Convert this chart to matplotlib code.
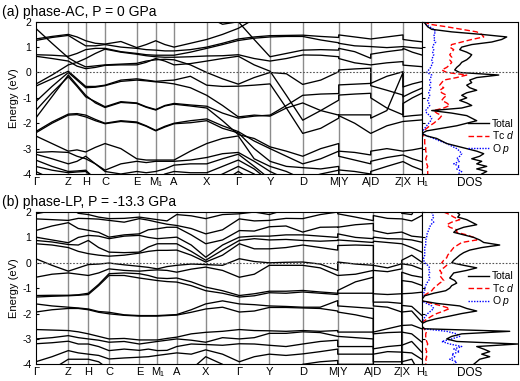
import numpy as np
import matplotlib.pyplot as plt

plt.rcParams['font.family'] = ['Liberation Sans', 'DejaVu Sans']
plt.rcParams['mathtext.fontset'] = 'custom'
plt.rcParams['mathtext.rm'] = 'Liberation Sans'
plt.rcParams['mathtext.it'] = 'Liberation Sans:italic'
plt.rcParams['axes.unicode_minus'] = False

# ---------------------------------------------
# k-path (high symmetry points, path length)
# ---------------------------------------------
k_labels = ['Γ', 'Z', 'H', 'C', 'E', 'M₁', 'A', 'X', 'Γ', 'Y', 'D',
            'M|Y', 'A|D', 'Z|X', 'H₁']
nodes_a = [0, 32.6, 50, 69.3, 101, 120, 138.3, 171, 202.6, 234.3, 267, 303, 335, 367.3, 386]
nodes_b = [0, 32.6, 52.6, 73.3, 103.6, 121.6, 141, 170, 203.6, 233.6, 267, 302, 337.6, 366, 386]
breaks = [11, 12, 13]  # discontinuous points M|Y, A|D, Z|X

# band energies (eV) at: G m Z m H m C m E m M1 m A m X m G m Y m D m M | Y m A | D m Z | X m H1
bands_a = [
    [2.0, 2.3, 2.6, 2.6, 2.6, 2.6, 2.6, 2.6, 2.6, 2.6, 2.6, 2.6, 2.6, 2.4, 2.2, 1.9, 2.0, 1.3, 0.62, 0.75, 0.88, 0.9, 0.88, 0.95, 0.82, 0.56, 0.72, 0.82, 0.90, 0.95, 0.80, 0.69],
    [1.74, 1.15, 0.58, 0.38, 0.22, 0.26, 0.30, 0.33, 0.36, 0.45, 0.50, 0.52, 0.50, 0.30, 0.00, -0.25, -0.46, -0.20, 0.00, -0.05, -0.47, -0.30, 0.03, 0.10, 0.14, 0.17, -0.43, -0.15, 0.03, -0.57, -0.45, -0.36],
    [1.32, 1.42, 1.50, 1.40, 1.25, 1.15, 1.12, 1.22, 0.98, 1.10, 1.25, 1.10, 1.00, 1.15, 1.30, 1.50, 1.74, 2.10, 2.6, 2.6, 2.6, 2.6, 2.6, 2.6, 2.6, 2.6, 2.6, 2.6, 2.6, 2.6, 2.6, 2.6],
    [1.26, 1.38, 1.46, 1.25, 1.05, 1.05, 1.10, 1.00, 0.95, 0.90, 0.88, 0.85, 0.85, 0.90, 1.00, 1.15, 1.32, 1.40, 1.45, 1.46, 1.47, 1.42, 1.38, 1.48, 1.40, 1.32, 1.32, 1.40, 1.48, 1.30, 1.25, 1.21],
    [0.70, 0.68, 0.64, 0.75, 0.90, 0.95, 0.95, 0.82, 0.75, 0.70, 0.68, 0.68, 0.68, 0.80, 0.95, 1.10, 1.26, 1.35, 1.40, 1.42, 1.42, 1.28, 1.17, 1.15, 1.05, 1.02, 1.02, 0.98, 1.02, 1.02, 0.98, 0.95],
    [-0.46, -0.10, 0.30, 0.40, 0.55, 0.75, 0.92, 0.80, 0.72, 0.66, 0.62, 0.60, 0.60, 0.62, 0.65, 0.66, 0.70, 0.55, 0.45, 0.55, 0.69, 0.68, 0.62, 0.55, 0.38, 0.30, 0.30, 0.38, 0.43, 0.29, 0.26, 0.23],
    [0.64, 0.55, 0.45, 0.25, 0.15, 0.20, 0.28, 0.30, 0.30, 0.40, 0.55, 0.45, 0.30, 0.35, 0.45, 0.55, 0.64, 0.30, 0.05, -0.90, -1.88, -1.50, -1.09, -0.89, -0.85, -0.82, -1.00, -1.40, -1.67, -1.22, -1.00, -0.82],
    [-0.54, -0.25, 0.05, -0.25, -0.55, -0.55, -0.50, -0.30, -0.25, -0.30, -0.35, -0.32, -0.30, -0.15, -0.50, -0.55, -0.54, -0.50, -0.45, -1.40, -2.40, -2.20, -1.80, -1.70, -2.00, -2.40, -2.40, -2.10, -1.93, -1.93, -1.90, -1.87],
    [-1.50, -0.80, -0.17, -0.55, -0.96, -1.15, -1.35, -1.15, -1.20, -1.35, -1.46, -1.30, -1.22, -1.28, -1.33, -1.60, -1.80, -1.72, -1.68, -1.30, -0.90, -0.85, -0.83, -0.49, -0.46, -0.43, -0.52, -0.70, -0.89, -0.96, -0.78, -0.62],
    [-1.15, -0.55, 0.00, -0.30, -0.60, -0.58, -0.52, -0.35, -0.30, -0.33, -0.37, -0.40, -0.45, -0.60, -0.90, -1.30, -1.75, -1.68, -1.72, -1.40, -1.20, -1.50, -1.68, -1.67, -1.67, -1.67, -1.80, -1.50, 0.00, -1.74, -1.70, -1.67],
    [-1.80, -0.95, -0.10, -0.50, -0.90, -1.20, -1.38, -1.18, -1.22, -1.37, -1.48, -1.32, -1.25, -1.32, -1.40, -1.90, -2.45, -2.60, -2.93, -3.10, -3.30, -3.00, -2.80, -3.10, -3.15, -3.25, -3.10, -3.00, -3.10, -3.10, -3.05, -2.98],
    [-2.33, -1.95, -1.64, -1.62, -1.68, -1.85, -2.00, -1.90, -1.95, -2.10, -2.28, -2.12, -2.00, -1.90, -1.83, -2.10, -2.33, -2.70, -3.00, -3.30, -3.60, -3.40, -3.10, -3.30, -3.45, -3.60, -3.50, -3.35, -3.25, -3.25, -3.40, -3.51],
    [-2.38, -2.00, -1.68, -1.66, -1.75, -1.90, -2.02, -1.93, -1.98, -2.12, -2.30, -2.15, -2.02, -1.98, -1.90, -2.20, -2.38, -3.00, -3.50, -3.70, -3.75, -3.80, -3.70, -3.84, -3.90, -4.00, -3.90, -3.70, -3.51, -3.51, -3.70, -3.84],
    [-2.50, -2.80, -3.10, -3.05, -3.13, -2.95, -2.80, -3.00, -3.40, -3.45, -3.45, -3.45, -3.45, -3.10, -2.80, -2.60, -2.50, -3.40, -3.70, -3.90, -4.20, -4.00, -3.85, -4.5, -4.5, -4.5, -4.5, -4.5, -4.5, -4.5, -4.5, -4.5],
    [-3.15, -3.12, -3.15, -3.30, -3.40, -3.60, -3.85, -3.60, -3.50, -3.55, -3.50, -3.50, -3.50, -3.45, -3.35, -3.20, -3.15, -3.50, -3.90, -4.20, -4.5, -4.5, -4.5, -4.5, -4.5, -4.5, -4.5, -4.5, -4.5, -4.5, -4.5, -4.5],
    [-3.22, -3.40, -3.60, -3.50, -3.30, -3.60, -3.90, -4.00, -3.90, -3.95, -3.90, -3.80, -3.65, -3.60, -3.60, -3.40, -3.22, -3.70, -4.20, -4.5, -4.5, -4.5, -4.5, -4.5, -4.5, -4.5, -4.5, -4.5, -4.5, -4.5, -4.5, -4.5],
    [-3.45, -3.70, -3.90, -3.88, -3.85, -4.20, -4.5, -4.5, -4.40, -4.30, -4.20, -4.00, -3.90, -3.95, -3.95, -3.70, -3.45, -3.80, -4.30, -4.5, -4.5, -4.5, -4.5, -4.5, -4.5, -4.5, -4.5, -4.5, -4.5, -4.5, -4.5, -4.5],
    [-3.70, -3.85, -3.95, -3.92, -3.90, -4.20, -4.5, -4.5, -4.5, -4.5, -4.5, -4.5, -4.5, -4.40, -4.30, -4.00, -3.70, -4.00, -4.5, -4.5, -4.5, -4.5, -4.5, -4.5, -4.5, -4.5, -4.5, -4.5, -4.5, -4.5, -4.5, -4.5],
    [-3.90, -4.20, -4.5, -4.5, -4.5, -4.5, -4.5, -4.5, -4.5, -4.5, -4.5, -4.5, -4.5, -4.5, -4.5, -4.30, -3.90, -4.30, -4.5, -4.5, -4.5, -4.5, -4.5, -4.5, -4.5, -4.5, -4.5, -4.5, -4.5, -4.5, -4.5, -4.5],
]

# phase-LP: energies listed per k sample (same sample order as above)
levels_b = [
    [2.6, 2.6, 1.93, 1.73, 1.27, 1.01, 0.88, 0.75, 0.16, -0.57, -1.29, -1.35, -1.62, -1.94, -2.63, -3.00, -3.19, -3.90, -4.5, -4.5],
    [2.6, 2.5, 2.05, 1.70, 1.45, 0.90, 0.82, 0.70, -0.10, -0.45, -1.28, -1.32, -1.70, -1.85, -2.65, -2.95, -3.15, -3.70, -4.2, -4.5],
    [2.6, 2.6, 2.20, 1.67, 1.58, 0.79, 0.72, 0.60, -0.33, -0.40, -1.28, -1.30, -1.75, -1.80, -2.67, -2.87, -3.09, -3.46, -3.8, -4.5],
    [2.6, 2.6, 1.95, 1.75, 1.35, 1.00, 0.70, 0.45, -0.20, -0.45, -1.26, -1.28, -1.78, -1.80, -2.72, -2.95, -3.20, -3.55, -3.8, -4.5],
    [2.6, 2.6, 1.90, 1.74, 1.28, 1.08, 0.88, 0.36, -0.07, -0.50, -1.20, -1.25, -1.82, -1.85, -2.80, -3.00, -3.20, -3.60, -3.8, -4.5],
    [2.6, 2.6, 1.80, 1.72, 1.20, 1.05, 0.60, 0.30, -0.05, -0.40, -0.85, -0.90, -1.92, -1.95, -2.90, -3.05, -3.30, -3.65, -3.9, -4.5],
    [2.6, 2.6, 1.74, 1.67, 1.01, 0.95, 0.42, 0.26, -0.01, -0.24, -0.43, -0.50, -1.95, -2.01, -3.00, -3.13, -3.46, -3.79, -4.2, -4.5],
    [2.6, 2.6, 1.75, 1.60, 1.10, 1.05, 0.40, 0.30, -0.08, -0.30, -0.40, -0.50, -2.05, -2.07, -2.98, -3.10, -3.40, -3.75, -4.3, -4.5],
    [2.6, 2.6, 1.80, 1.74, 1.14, 1.08, 0.42, 0.38, -0.14, -0.33, -0.43, -0.60, -2.08, -2.10, -3.04, -3.20, -3.45, -3.72, -4.4, -4.5],
    [2.6, 2.6, 1.75, 1.68, 1.30, 1.00, 0.62, 0.45, -0.18, -0.30, -0.50, -0.65, -2.08, -2.10, -3.04, -3.15, -3.40, -3.70, -4.4, -4.5],
    [2.6, 2.6, 1.70, 1.60, 1.34, 0.95, 0.75, 0.49, -0.24, -0.28, -0.60, -0.70, -2.08, -2.10, -3.04, -3.10, -3.46, -3.65, -4.4, -4.5],
    [2.6, 2.6, 1.65, 1.52, 1.40, 0.98, 0.75, 0.49, -0.15, -0.30, -0.62, -0.74, -2.06, -2.08, -2.98, -3.05, -3.45, -3.60, -4.4, -4.5],
    [2.6, 2.6, 1.90, 1.47, 1.40, 1.01, 0.75, 0.50, -0.10, -0.37, -0.60, -0.76, -2.04, -2.06, -2.93, -3.00, -3.30, -3.55, -4.3, -4.5],
    [2.6, 2.6, 1.85, 1.35, 1.10, 0.70, 0.45, 0.30, -0.05, -0.25, -0.75, -0.90, -1.85, -1.95, -2.80, -3.05, -3.20, -3.60, -4.2, -4.5],
    [2.6, 2.6, 1.74, 1.14, 0.75, 0.22, 0.10, 0.03, -0.07, -0.17, -0.96, -1.10, -1.62, -1.82, -2.74, -3.13, -3.22, -3.43, -3.7, -4.5],
    [2.6, 2.4, 1.90, 1.30, 0.90, 0.70, 0.50, 0.30, -0.10, -0.30, -1.10, -1.20, -1.50, -1.75, -2.70, -2.95, -3.25, -3.60, -4.0, -4.5],
    [2.6, 2.6, 1.93, 1.73, 1.27, 1.01, 0.88, 0.75, 0.16, -0.57, -1.29, -1.35, -1.62, -1.94, -2.63, -3.00, -3.19, -3.90, -4.5, -4.5],
    [2.6, 2.6, 2.00, 1.65, 1.25, 1.05, 0.95, 0.55, 0.05, -0.45, -1.22, -1.30, -1.65, -1.90, -2.67, -2.95, -3.20, -3.70, -4.3, -4.5],
    [2.6, 2.6, 1.90, 1.67, 1.42, 1.05, 0.90, 0.55, 0.00, -0.10, -1.12, -1.18, -1.70, -1.76, -2.68, -2.78, -3.25, -3.60, -4.5, -4.5],
    [2.6, 2.6, 2.10, 1.75, 1.45, 1.10, 0.92, 0.60, 0.02, -0.10, -1.12, -1.20, -1.72, -1.76, -2.70, -2.78, -3.30, -3.65, -4.3, -4.5],
    [2.6, 2.6, 2.20, 1.74, 1.21, 1.10, 0.88, 0.70, 0.03, -0.10, -1.09, -1.15, -1.75, -1.78, -2.67, -2.72, -3.20, -3.59, -4.0, -4.5],
    [2.6, 2.6, 2.40, 1.90, 1.40, 1.05, 0.85, 0.60, -0.05, -0.20, -1.15, -1.20, -1.75, -1.80, -2.70, -2.75, -3.10, -3.50, -3.9, -4.5],
    [2.6, 2.6, 2.60, 2.00, 1.41, 1.00, 0.88, 0.50, -0.30, -0.50, -1.20, -1.25, -1.49, -1.90, -2.67, -2.90, -3.05, -3.40, -3.85, -4.5],
    [2.6, 2.6, 2.60, 1.93, 1.40, 1.14, 0.90, 0.68, 0.03, -0.50, -1.09, -1.20, -1.70, -1.94, -2.73, -2.90, -3.30, -3.60, -4.0, -4.5],
    [2.6, 2.6, 2.60, 1.80, 1.50, 1.00, 0.85, 0.70, -0.05, -0.45, -0.75, -1.20, -1.75, -2.05, -2.73, -2.95, -3.30, -3.60, -4.0, -4.5],
    [2.6, 2.6, 2.60, 1.66, 1.55, 0.95, 0.80, 0.68, -0.10, -0.30, -0.57, -1.20, -1.80, -2.20, -2.73, -3.00, -3.30, -3.60, -4.0, -4.5],
    [2.6, 2.6, 2.60, 1.86, 1.27, 1.01, 0.85, -0.10, -0.30, -1.22, -1.55, -1.70, -2.73, -2.80, -3.39, -3.60, -3.90, -4.2, -4.5, -4.5],
    [2.6, 2.6, 2.60, 1.75, 1.15, 0.95, 0.80, -0.20, -0.35, -1.25, -1.55, -1.75, -2.60, -2.75, -3.30, -3.50, -3.90, -4.2, -4.5, -4.5],
    [2.6, 2.6, 2.60, 1.73, 1.21, 0.94, 0.75, -0.04, -0.24, -1.22, -1.60, -1.94, -2.47, -2.73, -3.25, -3.52, -3.90, -4.5, -4.5, -4.5],
    [2.6, 2.6, 1.95, 1.73, 1.21, 0.94, 0.75, 0.10, -0.04, -0.37, -0.70, -1.22, -1.68, -1.94, -2.47, -2.73, -3.25, -3.52, -3.9, -4.5],
    [2.6, 2.6, 1.90, 1.65, 1.05, 0.90, 0.60, 0.30, -0.10, -0.50, -0.75, -1.20, -1.72, -1.90, -2.45, -2.80, -3.10, -3.55, -3.8, -4.5],
    [2.6, 2.6, 2.60, 1.86, 1.01, 0.81, 0.42, 0.03, -0.25, -0.57, -0.89, -1.16, -2.07, -2.34, -2.60, -3.12, -3.52, -3.80, -4.5, -4.5],
]

# density of states, energies from 2.0 down to -4.0 eV in 0.1 eV steps
dos_e = np.round(np.arange(2.0, -4.05, -0.1), 2)
dos_total_a = [2, 4, 6, 10, 30, 60, 85, 80, 70, 50, 40, 38, 45, 50, 48, 45, 40, 38, 35, 33,
               38, 77, 55, 48, 50, 45, 48, 55, 45, 40, 45, 38, 45, 50, 40, 10, 30, 45, 50, 55,
               45, 35, 20, 5, 0, 5, 15, 20, 25, 35, 45, 55, 62, 58, 50, 60, 55, 65, 55, 65, 60]
dos_tcd_a = [2, 8, 25, 40, 55, 60, 62, 50, 40, 30, 28, 32, 30, 28, 30, 28, 30, 28, 25, 20,
             25, 45, 35, 22, 20, 18, 22, 18, 20, 25, 22, 20, 25, 28, 22, 12, 15, 20, 18, 15,
             12, 8, 5, 2, 0, 2, 3, 3, 3, 4, 4, 4, 5, 5, 4, 5, 5, 6, 5, 6, 6]
dos_op_a = [2, 4, 8, 12, 14, 12, 13, 12, 14, 12, 11, 12, 11, 12, 11, 10, 11, 10, 9, 7,
            5, 10, 9, 8, 9, 8, 9, 8, 7, 8, 7, 6, 7, 8, 6, 4, 5, 8, 10, 9,
            7, 5, 3, 1, 0, 5, 12, 18, 25, 30, 35, 38, 40, 38, 35, 38, 32, 38, 35, 40, 36]
dos_total_b = [35, 38, 36, 45, 50, 55, 42, 35, 32, 42, 52, 58, 62, 78, 60, 48, 42, 38, 35, 32,
               30, 42, 55, 45, 32, 30, 28, 33, 35, 30, 28, 24, 12, 3, 1, 0, 15, 38, 45, 55,
               40, 28, 15, 5, 0, 0, 3, 88, 40, 30, 25, 35, 96, 55, 62, 68, 60, 68, 58, 55, 52]
dos_tcd_b = [22, 28, 32, 38, 30, 25, 28, 35, 35, 45, 52, 55, 40, 36, 32, 30, 28, 26, 25, 22,
             20, 25, 22, 18, 20, 18, 20, 22, 18, 15, 12, 10, 6, 2, 0, 0, 10, 20, 28, 22,
             15, 10, 6, 2, 0, 0, 2, 5, 4, 4, 4, 5, 6, 5, 4, 5, 4, 5, 4, 5, 4]
dos_op_b = [10, 11, 12, 10, 12, 9, 8, 7, 6, 5, 5, 4, 4, 4, 3, 3, 3, 3, 2, 2,
            3, 6, 8, 7, 8, 7, 8, 7, 5, 4, 3, 3, 2, 1, 0, 0, 5, 10, 12, 9,
            6, 4, 2, 1, 0, 0, 2, 25, 35, 38, 30, 20, 28, 40, 32, 38, 30, 33, 28, 35, 32]


def sample_x(nodes):
    xs = []
    for i in range(len(nodes) - 1):
        xs.append(nodes[i])
        if i in breaks:
            xs.append(nodes[i])
        xs.append((nodes[i] + nodes[i + 1]) / 2)
    xs.append(nodes[-1])
    return xs


def draw_panel(fig, bottom, nodes, bands, tot, tcd, op, title, title_y, leg_y):
    ax = fig.add_axes([0.0687, bottom, 0.7423, 0.3997])
    xs = sample_x(nodes)
    for b in bands:
        ax.plot(xs, b, color='black', lw=0.95, zorder=2)
    for x in nodes[1:-1]:
        ax.axvline(x, color='#8c8c8c', lw=1.0, zorder=1)
    ax.axhline(0, color='#555555', lw=0.8, ls=(0, (1.5, 1.5)), zorder=3)
    ax.set_xlim(nodes[0], nodes[-1])
    ax.set_ylim(-4, 2)
    ax.set_xticks(nodes)
    ax.set_xticklabels(k_labels, fontsize=8)
    ax.set_yticks(range(-4, 3))
    ax.tick_params(axis='x', length=0, pad=2)
    ax.tick_params(axis='y', direction='in', length=2, labelsize=7.5, pad=3)
    ax.set_ylabel('Energy (eV)', fontsize=8, labelpad=2)

    dx = fig.add_axes([0.811, bottom, 0.1846, 0.3997])
    l2, = dx.plot(tcd, dos_e, color='red', lw=1.0, ls=(0, (4, 2)), zorder=2)
    l3, = dx.plot(op, dos_e, color='blue', lw=1.0, ls=(0, (1, 1)), zorder=2)
    l1, = dx.plot(tot, dos_e, color='black', lw=1.0, zorder=3)
    dx.axhline(0, color='#555555', lw=0.8, ls=(0, (1.5, 1.5)), zorder=4)
    dx.set_xlim(0, 96)
    dx.set_ylim(-4, 2)
    dx.set_xticks([48])
    dx.set_xticklabels(['DOS'], fontsize=8.5)
    dx.set_yticks(range(-4, 3))
    dx.set_yticklabels([])
    dx.tick_params(axis='x', length=0, pad=2)
    dx.tick_params(axis='y', direction='in', length=2)
    dx.legend([l1, l2, l3], ['Total', 'Tc $d$', 'O $p$'], loc='center right',
              bbox_to_anchor=(1.03, leg_y), frameon=False, fontsize=7.5,
              handlelength=2.0, handletextpad=0.3, labelspacing=0.05, borderpad=0.1)

    fig.text(0.004, title_y, title, fontsize=10, va='center', ha='left')


fig = plt.figure(figsize=(5.2, 3.81), dpi=100)
draw_panel(fig, 0.5433, nodes_a, bands_a, dos_total_a, dos_tcd_a, dos_op_a,
           '(a) phase-AC, P = 0 GPa', 1 - 12 / 381, 0.24)
bands_b = np.array(levels_b).T
draw_panel(fig, 0.0438, nodes_b, bands_b, dos_total_b, dos_tcd_b, dos_op_b,
           '(b) phase-LP, P = -13.3 GPa', 1 - 202 / 381, 0.49)

fig.savefig('out.png', dpi=100)
